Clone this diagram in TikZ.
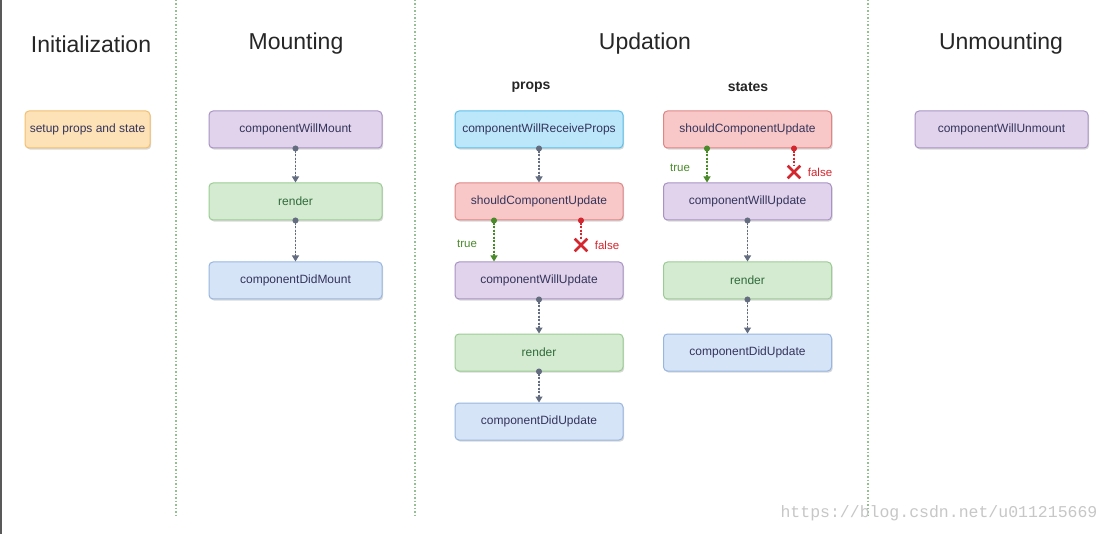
\documentclass[tikz,border=0pt]{standalone}
\usepackage{fontspec}
\setmainfont{Liberation Sans}
\setmonofont{Liberation Mono}
\usetikzlibrary{arrows.meta, shapes.misc, shadows, positioning}

\definecolor{boxtext}{HTML}{34345A}
\definecolor{rendtext}{HTML}{2F6B3A}
\definecolor{pfill}{HTML}{E0D3EB}\definecolor{pline}{HTML}{A893C4}
\definecolor{gfill}{HTML}{D5EBD1}\definecolor{gline}{HTML}{9CCC95}
\definecolor{bfill}{HTML}{D6E4F8}\definecolor{bline}{HTML}{98B6E0}
\definecolor{cfill}{HTML}{BCE7FA}\definecolor{cline}{HTML}{5BBFE9}
\definecolor{rfill}{HTML}{F8C8C8}\definecolor{rline}{HTML}{E08484}
\definecolor{ofill}{HTML}{FDE2B8}\definecolor{oline}{HTML}{F3BF6F}
\definecolor{flowgray}{HTML}{646C80}
\definecolor{yesgreen}{HTML}{4A8A2A}
\definecolor{nored}{HTML}{D3262E}
\definecolor{divgreen}{HTML}{93BF93}

\begin{document}
\begin{tikzpicture}[x=1pt, y=-1pt, >={Triangle[width=7pt,length=6pt]}, thick]
 \tikzstyle{box} = [rectangle, rounded corners=4pt, draw, line width=1pt,
   minimum width=173pt, minimum height=37pt, text=boxtext,
   font=\fontsize{12}{14}\selectfont,
   drop shadow={shadow xshift=1.2pt, shadow yshift=-1.6pt, opacity=0.3}]
 \tikzstyle{willbox} = [box, fill=pfill, draw=pline]
 \tikzstyle{renderbox} = [box, fill=gfill, draw=gline, text=rendtext]
 \tikzstyle{didbox} = [box, fill=bfill, draw=bline]
 \tikzstyle{recvbox} = [box, fill=cfill, draw=cline]
 \tikzstyle{shouldbox} = [box, fill=rfill, draw=rline]
 \tikzstyle{setupbox} = [box, fill=ofill, draw=oline, minimum width=125pt]
 \tikzstyle{narrow} = [minimum width=168pt]
 \tikzstyle{head} = [font=\fontsize{23}{27}\selectfont, text=black!85]
 \tikzstyle{subhead} = [font=\bfseries\fontsize{14}{16}\selectfont, text=black!85]
 \tikzstyle{flow} = [{Circle[length=6pt]}->, draw=flowgray, fill=flowgray,
   dash pattern=on 2pt off 1.5pt, line width=1.1pt, shorten <=-3pt]
 \tikzstyle{yes} = [flow, draw=yesgreen, fill=yesgreen]
 \tikzstyle{no} = [{Circle[length=6pt]}-, draw=nored, fill=nored,
   dash pattern=on 2pt off 1.5pt, line width=1.1pt, shorten <=-3pt]
 \tikzstyle{stop} = [cross out, draw=nored, line width=2.6pt, minimum size=10pt, inner sep=0pt]
 \tikzstyle{yeslabel} = [text=yesgreen, font=\fontsize{11.5}{13}\selectfont]
 \tikzstyle{nolabel} = [text=nored, font=\fontsize{11.5}{13}\selectfont]
 \tikzstyle{divider} = [divgreen, line width=1.4pt, dash pattern=on 1.5pt off 2pt]

 \useasboundingbox[fill=white] (0,0) rectangle (1110,534);
 \draw[line width=2.5pt, black!65] (1,0) -- (1,534);
 \draw[divider] (176,0) -- (176,517);
 \draw[divider] (415,0) -- (415,517);
 \draw[divider] (868,0) -- (868,517);

 % phase titles
 \node[head] (init) at (91,44) {Initialization};
 \node[head] (mount) at (296,44) {Mounting};
 \node[head] (upd) at (645,44) {Updation};
 \node[head] (unmount) at (1001,44) {Unmounting};
 \node[subhead] (props) at (531,87) {props};
 \node[subhead] (states) at (748,87) {states};

 % initialization and mounting
 \node[setupbox] (setup) at (87.5,129.5) {setup props and state};
 \node[willbox] (cwm) at (295.5,129.5) {componentWillMount};
 \node[renderbox] (rend1) [below=34pt of cwm] {render};
 \node[didbox] (cdm) [below=41pt of rend1] {componentDidMount};

 % updation, props
 \node[recvbox, narrow] (cwrp) at (539,129.5) {componentWillReceiveProps};
 \node[shouldbox, narrow] (scu1) [below=34pt of cwrp] {shouldComponentUpdate};
 \node[willbox, narrow] (cwu1) [below=41pt of scu1] {componentWillUpdate};
 \node[renderbox, narrow] (rend2) [below=34pt of cwu1] {render};
 \node[didbox, narrow] (cdu1) [below=31pt of rend2] {componentDidUpdate};

 % updation, states
 \node[shouldbox, narrow] (scu2) at (747.5,129.5) {shouldComponentUpdate};
 \node[willbox, narrow] (cwu2) [below=34pt of scu2] {componentWillUpdate};
 \node[renderbox, narrow] (rend3) [below=41pt of cwu2] {render};
 \node[didbox, narrow] (cdu2) [below=34pt of rend3] {componentDidUpdate};

 % unmounting
 \node[willbox] (cwum) at (1001.5,129.5) {componentWillUnmount};

 \node[stop] (x1) at (581,245) {};
 \node[stop] (x2) at (794,172) {};
 \node[yeslabel] (t1) at (467,244) {true};
 \node[nolabel] (f1) at (607,245) {false};
 \node[yeslabel] (t2) at (680,168) {true};
 \node[nolabel] (f2) at (820,172) {false};

 \path
	(cwm) edge[flow] (rend1)
	(rend1) edge[flow] (cdm)
	(cwrp) edge[flow] (scu1)
	(cwu1) edge[flow] (rend2)
	(rend2) edge[flow] (cdu1)
	(cwu2) edge[flow] (rend3)
	(rend3) edge[flow] (cdu2)
	([xshift=-45pt]scu1.south) edge[yes] ([xshift=-45pt]cwu1.north)
	([xshift=42pt]scu1.south) edge[no] (x1.north)
	([xshift=-40.5pt]scu2.south) edge[yes] ([xshift=-40.5pt]cwu2.north)
	([xshift=46.5pt]scu2.south) edge[no] (x2.north);

 \node[text=black!22, font=\ttfamily\fontsize{16.5}{18}\selectfont] (url) at (939,513) {https://blog.csdn.net/u011215669};
\end{tikzpicture}
\end{document}
